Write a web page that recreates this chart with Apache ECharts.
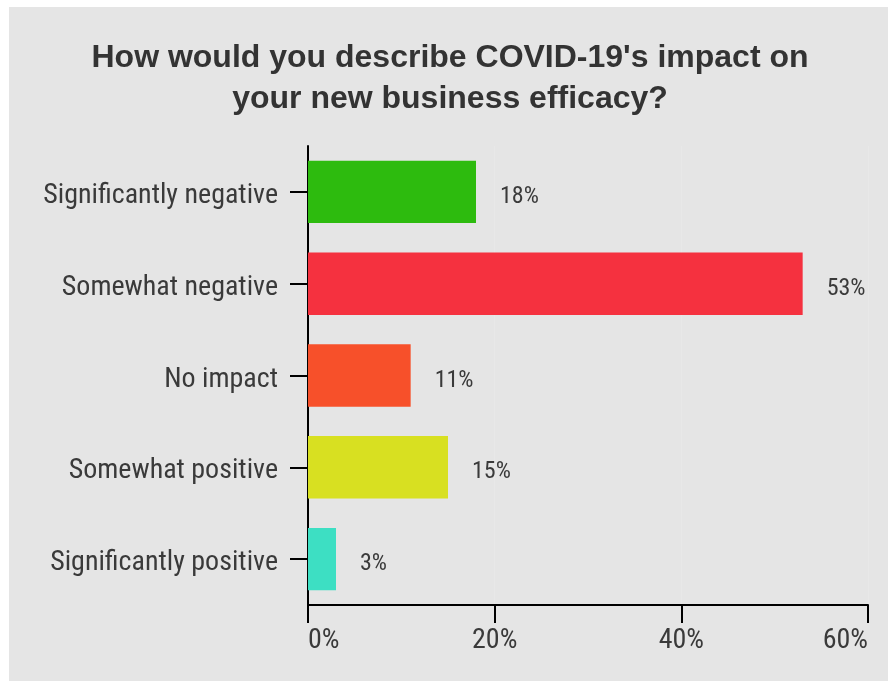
<!DOCTYPE html>
<html>
<head>
<meta charset="utf-8">
<script src="https://cdn.jsdelivr.net/npm/echarts@6/dist/echarts.min.js"></script>
<style>
  html, body { margin: 0; padding: 0; background: #ffffff; }
  #chart { position: absolute; left: 9px; top: 7px; width: 879px; height: 674px; }
</style>
</head>
<body>
<div id="chart"></div>
<script>
// Survey answers, top to bottom
const categories = [
  'Significantly negative',
  'Somewhat negative',
  'No impact',
  'Somewhat positive',
  'Significantly positive'
];
const shares = [18, 53, 11, 15, 3];
const barColors = ['#2dbb0e', '#f5313f', '#f7502a', '#d8e021', '#3ddfc3'];
const xTicks = [0, 20, 40, 60];

const labelFont = "'Roboto Condensed', 'Liberation Sans Narrow', 'DejaVu Sans Condensed', Roboto, sans-serif";

const chart = echarts.init(document.getElementById('chart'));
chart.setOption({
  backgroundColor: '#e5e5e5',
  animation: false,
  title: {
    text: "How would you describe COVID-19's impact on\nyour new business efficacy?",
    left: 436,
    top: 26,
    textAlign: 'center',
    textStyle: {
      fontFamily: "'Liberation Sans', Arial, sans-serif",
      fontWeight: 'bold',
      fontSize: 32,
      lineHeight: 41,
      color: '#333333'
    }
  },
  grid: { left: 299, right: 20, top: 139, bottom: 76, containLabel: false },
  xAxis: {
    type: 'value',
    min: xTicks[0],
    max: xTicks[xTicks.length - 1],
    interval: xTicks[1] - xTicks[0],
    axisLine: { show: true, lineStyle: { color: '#000', width: 2 } },
    axisTick: { show: true, length: 18, lineStyle: { color: '#000', width: 2 } },
    splitLine: { show: true, lineStyle: { color: '#e8e8e8', width: 1 } },
    axisLabel: {
      formatter: v => v + '%',
      fontFamily: labelFont,
      fontSize: 28,
      color: '#3a3a3a',
      margin: 22,
      alignMinLabel: 'left',
      alignMaxLabel: 'right'
    }
  },
  yAxis: {
    type: 'category',
    inverse: true,
    data: categories,
    axisLine: { show: true, lineStyle: { color: '#000', width: 2 } },
    axisTick: { show: true, length: 18, alignWithLabel: true, lineStyle: { color: '#000', width: 2 } },
    axisLabel: {
      color: '#3a3a3a',
      margin: 30,
      formatter: v => '{c|' + v + '}',
      rich: {
        c: {
          fontFamily: labelFont,
          fontSize: 28,
          color: '#3a3a3a',
          padding: [8, 0, 0, 0]
        }
      }
    }
  },
  series: [{
    type: 'bar',
    data: shares.map((v, i) => ({ value: v, itemStyle: { color: barColors[i] } })),
    barCategoryGap: '32%',
    label: {
      show: true,
      position: 'right',
      distance: 24,
      offset: [0, 5],
      formatter: p => p.value + '%',
      fontFamily: labelFont,
      fontSize: 24,
      color: '#3a3a3a'
    }
  }]
});
</script>
</body>
</html>
